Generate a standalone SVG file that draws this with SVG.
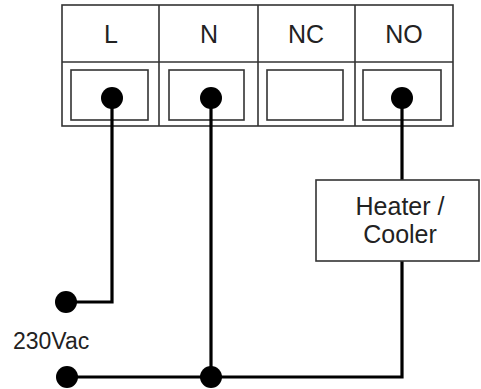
<svg xmlns="http://www.w3.org/2000/svg" width="481" height="389" viewBox="0 0 481 389">
<style>
.frame{fill:none;stroke:#333;stroke-width:1.6}
.box{fill:#fff;stroke:#333;stroke-width:1.6}
.wire{fill:none;stroke:#000;stroke-width:3.2;stroke-linejoin:miter}
.dot{fill:#000}
.t{font-family:"Liberation Sans",Arial,sans-serif;fill:#222;text-anchor:middle}
</style>
<rect width="481" height="389" fill="#fff"/>
<g id="terminal-block">
  <rect class="frame" x="62" y="5" width="391" height="121"/>
  <line class="frame" x1="62" y1="62" x2="453" y2="62"/>
  <line class="frame" x1="159" y1="5" x2="159" y2="126"/>
  <line class="frame" x1="258" y1="5" x2="258" y2="126"/>
  <line class="frame" x1="355" y1="5" x2="355" y2="126"/>
</g>
<g id="term-L">
  <text class="t" x="111" y="43" font-size="25">L</text>
  <rect class="frame" x="71" y="70" width="77" height="50"/>
</g>
<g id="term-N">
  <text class="t" x="209" y="43" font-size="25">N</text>
  <rect class="frame" x="169" y="70" width="75" height="50"/>
</g>
<g id="term-NC">
  <text class="t" x="306" y="43" font-size="25">NC</text>
  <rect class="frame" x="267" y="70" width="76" height="50"/>
</g>
<g id="term-NO">
  <text class="t" x="404" y="43" font-size="25">NO</text>
  <rect class="frame" x="363" y="70" width="78" height="50"/>
</g>
<g id="connectors">
  <polyline class="wire" points="112,98 112,302 66,302"/>
  <line class="wire" x1="211" y1="98" x2="211" y2="377"/>
  <polyline class="wire" points="67,377 402,377 402,261"/>
  <line class="wire" x1="402" y1="98" x2="402" y2="180"/>
  <circle class="dot" cx="112" cy="98" r="11"/>
  <circle class="dot" cx="211" cy="98" r="11"/>
  <circle class="dot" cx="402" cy="98" r="11"/>
  <circle class="dot" cx="211" cy="377" r="11"/>
</g>
<g id="load">
  <rect class="box" x="316" y="180" width="163" height="81"/>
  <text class="t" x="400" y="215" font-size="25">Heater /</text>
  <text class="t" x="400" y="243" font-size="25">Cooler</text>
</g>
<g id="supply">
  <circle class="dot" cx="66" cy="302" r="11"/>
  <circle class="dot" cx="67" cy="377" r="11"/>
  <text x="13" y="349" font-size="23" font-family="'Liberation Sans',Arial,sans-serif" fill="#222">230Vac</text>
</g>
</svg>
